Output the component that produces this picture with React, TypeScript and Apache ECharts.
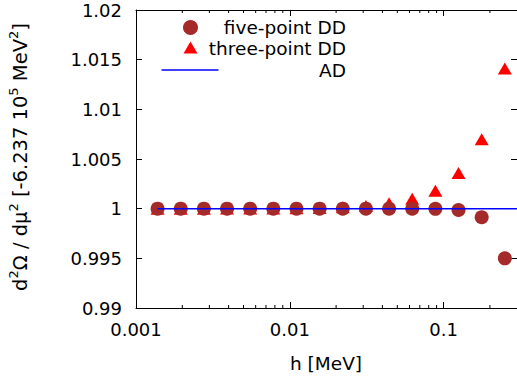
import React, { useEffect, useRef } from "react";
import * as echarts from "echarts";

// step size h [MeV]
const H_VALUES = [
  0.001381, 0.001953, 0.002762, 0.003906, 0.005524, 0.007813, 0.01105, 0.015625,
  0.0221, 0.03125, 0.0442, 0.0625, 0.0884, 0.125, 0.1768, 0.25,
];
const FIVE_POINT = [
  1.0, 1.0, 1.0, 1.0, 1.0, 1.0, 1.0, 1.0,
  1.0, 1.0, 1.0, 1.0, 0.99998, 0.99987, 0.99914, 0.995,
];
const THREE_POINT = [
  1.0, 1.0, 1.0, 1.000005, 1.00001, 1.00002, 1.00004, 1.00007,
  1.00014, 1.00028, 1.00055, 1.001, 1.0018, 1.0036, 1.007, 1.0141,
];
const AD_H = [0.001381, 0.3];
const AD_VALUES = [1.0, 1.0];
const MINOR_TICKS = [
  0.002, 0.003, 0.004, 0.005, 0.006, 0.007, 0.008, 0.009,
  0.02, 0.03, 0.04, 0.05, 0.06, 0.07, 0.08, 0.09, 0.2,
];
const LEGEND_LABELS = ["five-point DD", "three-point DD", "AD"];
const Y_TICK_LABELS_MIN = 0.99;
const Y_TICK_LABELS_MAX = 1.02;
const Y_INTERVAL = 0.005;

const FONT = "DejaVu Sans";
const COL_FIVE = "#a52a2a";
const COL_THREE = "#ff0000";
const COL_AD = "#0000ff";

export default function App() {
  const ref = useRef<HTMLDivElement>(null);
  useEffect(() => {
    document.body.style.margin = "0";
    const chart = echarts.init(ref.current!, null, { renderer: "svg" });
    const grid = { left: 136, top: 10, width: 382, height: 298 };
    const xBase = {
      type: "log" as const,
      logBase: 10,
      min: 0.001,
      max: 0.3,
      splitLine: { show: false },
    };
    const yBase = {
      type: "value" as const,
      min: Y_TICK_LABELS_MIN,
      max: Y_TICK_LABELS_MAX,
      interval: Y_INTERVAL,
      splitLine: { show: false },
    };
    const option: any = {
      animation: false,
      backgroundColor: "#ffffff",
      textStyle: { fontFamily: FONT },
      grid,
      xAxis: [
        {
          ...xBase,
          position: "bottom",
          axisLine: { show: true, lineStyle: { color: "#000", width: 1 } },
          axisTick: { show: true, inside: true, length: 6, lineStyle: { color: "#000" } },
          axisLabel: {
            show: true,
            fontFamily: FONT,
            fontSize: 18,
            color: "#000",
            margin: 12,
            showMaxLabel: false,
            formatter: (v: number) => {
              const l = Math.log10(v);
              return Math.abs(l - Math.round(l)) < 1e-6 ? String(+v.toPrecision(3)) : "";
            },
          },
        },
        {
          ...xBase,
          position: "top",
          axisLine: { show: true, lineStyle: { color: "#000", width: 1 } },
          axisTick: { show: true, inside: true, length: 6, lineStyle: { color: "#000" } },
          axisLabel: { show: false },
        },
      ],
      yAxis: [
        {
          ...yBase,
          position: "left",
          axisLine: { show: true, lineStyle: { color: "#000", width: 1 } },
          axisTick: { show: true, inside: true, length: 6, lineStyle: { color: "#000" } },
          axisLabel: {
            fontFamily: FONT,
            fontSize: 18,
            color: "#000",
            margin: 14,
            formatter: (v: number) => String(+v.toFixed(3)),
          },
        },
        {
          ...yBase,
          position: "right",
          axisLine: { show: true, lineStyle: { color: "#000", width: 1 } },
          axisTick: { show: true, inside: true, length: 6, lineStyle: { color: "#000" } },
          axisLabel: { show: false },
        },
      ],
      series: [
        {
          type: "custom",
          name: "minor ticks",
          silent: true,
          xAxisIndex: 0,
          yAxisIndex: 0,
          data: MINOR_TICKS.map((t) => [t, 1]),
          renderItem: (params: any, api: any) => {
            const x = api.coord([api.value(0), 1])[0];
            const cs = params.coordSys;
            const len = 3;
            return {
              type: "group",
              children: [
                {
                  type: "line",
                  shape: { x1: x, y1: cs.y + cs.height, x2: x, y2: cs.y + cs.height - len },
                  style: { stroke: "#000", lineWidth: 1 },
                },
                {
                  type: "line",
                  shape: { x1: x, y1: cs.y, x2: x, y2: cs.y + len },
                  style: { stroke: "#000", lineWidth: 1 },
                },
              ],
            };
          },
        },
        {
          type: "scatter",
          name: LEGEND_LABELS[1],
          symbol: "triangle",
          symbolSize: [14, 12],
          itemStyle: { color: COL_THREE, opacity: 1 },
          data: H_VALUES.map((h, i) => [h, THREE_POINT[i]]),
        },
        {
          type: "scatter",
          name: LEGEND_LABELS[0],
          symbol: "circle",
          symbolSize: 14,
          itemStyle: { color: COL_FIVE, opacity: 1 },
          data: H_VALUES.map((h, i) => [h, FIVE_POINT[i]]),
        },
        {
          type: "line",
          name: LEGEND_LABELS[2],
          showSymbol: false,
          symbol: "none",
          lineStyle: { color: COL_AD, width: 1.5 },
          data: AD_H.map((h, i) => [h, AD_VALUES[i]]),
        },
      ],
      graphic: [
        {
          type: "circle",
          shape: { cx: 190.5, cy: 27.5, r: 7.5 },
          style: { fill: COL_FIVE },
        },
        {
          type: "polygon",
          shape: { points: [[190.5, 41.5], [197.5, 53.5], [183.5, 53.5]] },
          style: { fill: COL_THREE },
        },
        {
          type: "line",
          shape: { x1: 161.5, y1: 70, x2: 218.5, y2: 70 },
          style: { stroke: COL_AD, lineWidth: 1.5 },
        },
        ...LEGEND_LABELS.map((t, i) => ({
          type: "text",
          x: 346,
          y: [27.5, 48, 70][i],
          style: {
            text: t,
            fontFamily: FONT,
            fontSize: 18.5,
            fill: "#000",
            align: "right",
            verticalAlign: "middle",
          },
        })),
        {
          type: "text",
          x: 326,
          y: 363,
          style: {
            text: "h [MeV]",
            fontFamily: FONT,
            fontSize: 18.5,
            fill: "#000",
            align: "center",
            verticalAlign: "middle",
          },
        },
        {
          type: "text",
          x: 20,
          y: 157,
          rotation: Math.PI / 2,
          style: {
            text: "{a|d}{s|2}{a|Ω / dμ}{s|2}{a| [-6.237 10}{s|5}{a| MeV}{s|2}{a|]}",
            fontFamily: FONT,
            fill: "#000",
            align: "center",
            verticalAlign: "middle",
            rich: {
              a: { fontFamily: FONT, fontSize: 19.5, lineHeight: 26, fill: "#000" },
              s: { fontFamily: FONT, fontSize: 13, lineHeight: 16, verticalAlign: "top", fill: "#000" },
            },
          },
        },
      ],
    };
    chart.setOption(option);
    return () => chart.dispose();
  }, []);
  return <div ref={ref} style={{ width: 517, height: 381 }} />;
}
